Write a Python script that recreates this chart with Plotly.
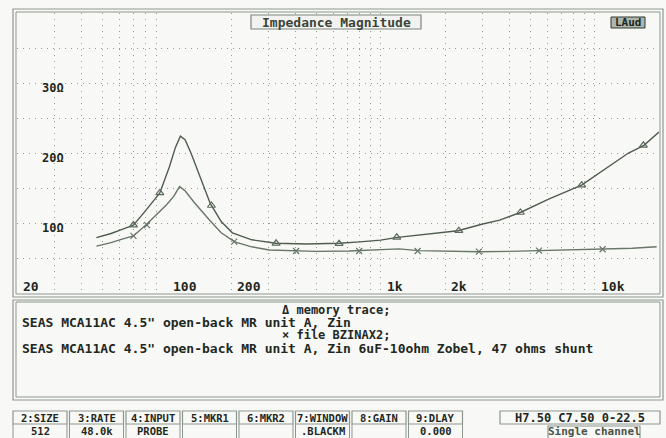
import math
import plotly.graph_objects as go

# ---------------- data ----------------
freq_a = [47, 55, 62, 70, 80, 93, 103, 110, 116, 122, 130, 145, 160, 180, 203, 250,
          325, 450, 640, 800, 1000, 1200, 1600, 2300, 3000, 3600, 4500, 6100, 8700,
          11500, 14400, 17000, 20000]
z_a = [7.9, 8.5, 9.1, 9.7, 11.8, 14.3, 18.0, 20.8, 22.4, 21.9, 20.0, 16.2, 12.8, 10.2,
       8.6, 7.6, 7.1, 7.0, 7.1, 7.3, 7.55, 7.95, 8.35, 8.9, 9.85, 10.4, 11.5, 13.4, 15.4,
       17.9, 20.0, 21.1, 23.0]
mark_freq_a = [70, 93, 162, 325, 640, 1190, 2320, 4500, 8700, 16900]
mark_z_a = [9.7, 14.3, 12.5, 7.1, 7.05, 7.95, 8.9, 11.5, 15.4, 21.1]

freq_b = [47, 55, 62, 70, 80, 90, 100, 108, 115, 122, 135, 159, 180, 208, 250, 302,
          400, 500, 714, 1000, 1220, 1500, 2000, 2900, 4000, 5500, 8000, 10800, 15000, 19500]
z_b = [6.7, 7.2, 7.7, 8.15, 9.7, 11.2, 12.6, 13.8, 15.2, 14.6, 12.9, 10.4, 8.6, 7.3,
       6.6, 6.15, 6.0, 5.95, 6.0, 6.15, 6.3, 6.05, 5.95, 5.9, 5.95, 6.05, 6.1, 6.25, 6.4, 6.6]
mark_freq_b = [70, 81, 207, 403, 794, 1490, 2880, 5500, 10900]
mark_z_b = [8.15, 9.7, 7.35, 6.0, 6.0, 6.0, 5.9, 6.05, 6.25]

x_tick_vals = [20, 100, 200, 1000, 2000, 10000]
x_tick_text = ["20", "100", "200", "1k", "2k", "10k"]
y_tick_vals = [10, 20, 30]
y_tick_text = ["10Ω", "20Ω", "30Ω"]
x_grid = [m * 10 ** d for d in range(1, 4) for m in range(2, 10)] + \
         [1000 * m for m in range(1, 10)] + [10000, 20000]
x_grid = sorted(set(x_grid))
y_grid = [0, 5, 10, 15, 20, 25, 30, 35, 40]

title_text = "Impedance Magnitude"
badge_text = "LAud"
legend_lines = [
    ("Δ memory trace;", "center"),
    ("SEAS MCA11AC 4.5\" open-back MR unit A, Zin", "left"),
    ("× file BZINAX2;", "center"),
    ("SEAS MCA11AC 4.5\" open-back MR unit A, Zin 6uF-10ohm Zobel, 47 ohms shunt", "left"),
]
menu_labels = ["2:SIZE", "3:RATE", "4:INPUT", "5:MKR1", "6:MKR2", "7:WINDOW", "8:GAIN", "9:DLAY"]
menu_values = ["512", "48.0k", "PROBE", "", "", ".BLACKM", "", "0.000"]
status_text = "H7.50 C7.50 0-22.5"
channel_text = "Single channel"

# ---------------- layout geometry (pixels) ----------------
W, H = 666, 438
L, R, T, B = 17, 659, 13, 293
PW, PH = R - L, B - T


def px(x):
    return (x - L) / PW


def py(y):
    return (B - y) / PH


BG = "#f8f9f6"
INK = "#1f281f"
FRAME = "#8d978d"
GRID = "#939c93"
FONT = "DejaVu Sans Mono"

fig = go.Figure()
fig.add_trace(go.Scatter(x=freq_a, y=z_a, mode="lines",
                         line=dict(color="#4f5c4f", width=1.4), hoverinfo="skip"))
fig.add_trace(go.Scatter(x=mark_freq_a, y=mark_z_a, mode="markers",
                         marker=dict(symbol="triangle-up-open", size=7,
                                     color="#5c695c", line=dict(width=1.2)), hoverinfo="skip"))
fig.add_trace(go.Scatter(x=freq_b, y=z_b, mode="lines",
                         line=dict(color="#687668", width=1.4), hoverinfo="skip"))
fig.add_trace(go.Scatter(x=mark_freq_b, y=mark_z_b, mode="markers",
                         marker=dict(symbol="x-thin-open", size=6,
                                     color="#687668", line=dict(width=1.2)), hoverinfo="skip"))

shapes = []
ann = []


def rect(x0, y0, x1, y1, color=FRAME, width=1, fill=None):
    d = dict(type="rect", xref="paper", yref="paper",
             x0=px(x0), x1=px(x1), y0=py(y1), y1=py(y0),
             line=dict(color=color, width=width), layer="above")
    if fill:
        d["fillcolor"] = fill
    shapes.append(d)


def line(x0, y0, x1, y1, color=FRAME, width=1):
    shapes.append(dict(type="line", xref="paper", yref="paper",
                       x0=px(x0), x1=px(x1), y0=py(y0), y1=py(y1),
                       line=dict(color=color, width=width), layer="above"))


def text(x, y, s, anchor="left", size=12, color=INK, bold=True):
    ann.append(dict(xref="paper", yref="paper", x=px(x), y=py(y), text=("<b>%s</b>" % s) if bold else s,
                    xanchor=anchor, yanchor="middle", showarrow=False,
                    font=dict(family=FONT, size=size, color=color)))


# plot frame (double)
rect(13, 9, 663, 297, width=1.2)
rect(16, 12, 660, 294, width=1)

# title box & badge
rect(251, 15, 421, 29, color="#7d877d", width=1.2, fill="#f2f3f0")
text(336, 22, title_text, "center", size=13, color="#3a443a")
rect(611, 17, 645, 28, color="#2f382f", width=1, fill="#aeb6ae")
text(628, 22.5, badge_text, "center", size=11, color="#202820")

# axis labels inside plot
for v, s in zip(x_tick_vals, x_tick_text):
    ann.append(dict(xref="x", yref="paper", x=math.log10(v), y=py(286.5), text="<b>%s</b>" % s,
                    xanchor="left", yanchor="middle", xshift=4, showarrow=False,
                    font=dict(family=FONT, size=13, color=INK)))
for v, s in zip(y_tick_vals, y_tick_text):
    ann.append(dict(xref="paper", yref="y", x=px(66), y=v, text="<b>%s</b>" % s,
                    xanchor="right", yanchor="middle", yshift=-5, showarrow=False,
                    font=dict(family=FONT, size=12, color=INK)))

# legend / text panel
rect(13, 300, 663, 400, width=1.2)
rect(16, 302, 660, 397, width=1)
ys = [310, 322, 335, 348]
for (s, a), y in zip(legend_lines, ys):
    if a == "center":
        text(336, y, s, "center", size=12)
    else:
        text(20, y, s, "left", size=13)

# menu boxes
bx0, bw, gap = 13, 54, 2.5
for i, (lab, val) in enumerate(zip(menu_labels, menu_values)):
    x0 = bx0 + i * (bw + gap)
    x1 = x0 + bw
    rect(x0, 411, x1, 424, width=1.2)
    line(x0, 424, x0, 440)
    line(x1, 424, x1, 440)
    text((x0 + x1) / 2, 417.5, lab, "center", size=10.5)
    if val:
        text((x0 + x1) / 2, 431, val, "center", size=10.5)

rect(500, 411, 660, 424, width=1.2)
text(580, 417.5, status_text, "center", size=12)
rect(548, 426, 640, 441, width=1.2)
text(594, 431.5, channel_text, "center", size=11, color="#4a544a")

fig.update_layout(
    width=W, height=H,
    margin=dict(l=L, r=W - R, t=T, b=H - B),
    paper_bgcolor=BG, plot_bgcolor=BG,
    showlegend=False,
    shapes=shapes, annotations=ann,
    xaxis=dict(type="log", range=[math.log10(20), math.log10(20000)],
               tickvals=x_grid, showticklabels=False, ticks="",
               showgrid=True, gridcolor=GRID, gridwidth=1, griddash="1px,5px",
               zeroline=False, showline=False),
    yaxis=dict(range=[0, 40], tickvals=y_grid, showticklabels=False, ticks="",
               showgrid=True, gridcolor=GRID, gridwidth=1, griddash="1px,5px",
               zeroline=False, showline=False),
)

fig.write_html("out.html", config={"displayModeBar": False},
               post_script="document.body.style.margin='0';document.body.style.padding='0';"
                           "document.body.style.background='%s';" % BG)
